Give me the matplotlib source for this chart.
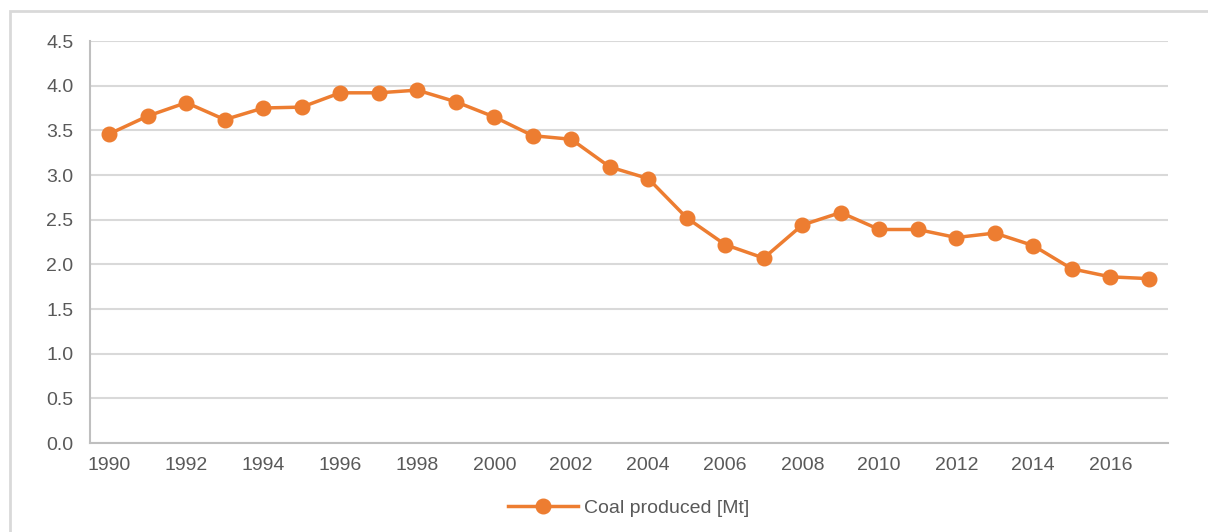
import matplotlib.pyplot as plt
from matplotlib.patches import Rectangle

# Data
years = list(range(1990, 2018))
coal = [3.46, 3.66, 3.81, 3.62, 3.75, 3.76, 3.92, 3.92, 3.95, 3.82,
        3.65, 3.44, 3.40, 3.09, 2.96, 2.52, 2.22, 2.07, 2.44, 2.58,
        2.39, 2.39, 2.30, 2.35, 2.21, 1.95, 1.86, 1.84]
series_label = "Coal produced [Mt]"
yticks = [0.0, 0.5, 1.0, 1.5, 2.0, 2.5, 3.0, 3.5, 4.0, 4.5]
xticks = list(range(1990, 2017, 2))

plt.rcParams['font.family'] = ['Liberation Sans', 'DejaVu Sans']
grey = '#595959'

fig = plt.figure(figsize=(12.08, 5.32), dpi=100)
# outer chart frame
fig.patches.append(Rectangle((10/1208, -0.05), 1.1, 1 - 11/532 + 0.05,
                             transform=fig.transFigure, fill=False,
                             edgecolor='#d9d9d9', linewidth=2))

ax = fig.add_axes([90/1208, 1 - 443/532, (1168 - 90)/1208, (443 - 41)/532])
ax.plot(years, coal, color='#ED7D31', linewidth=2.5, marker='o',
        markersize=10.5, label=series_label, zorder=3)

ax.set_xlim(1989.5, 2017.5)
ax.set_ylim(0, 4.5)
ax.set_yticks(yticks)
ax.set_yticklabels([f"{v:.1f}" for v in yticks])
ax.set_xticks(xticks)
ax.tick_params(length=0, colors=grey, labelsize=14)
ax.tick_params(axis='x', pad=10)
ax.tick_params(axis='y', pad=12)
ax.grid(axis='y', color='#d9d9d9', linewidth=1.5)
ax.set_axisbelow(True)
for s in ['top', 'right']:
    ax.spines[s].set_visible(False)
for s in ['left', 'bottom']:
    ax.spines[s].set_color('#bfbfbf')
    ax.spines[s].set_linewidth(1.5)

leg = ax.legend(loc='upper center', bbox_to_anchor=(0.5, -0.097), frameon=False,
                fontsize=14, handlelength=3.6, handletextpad=0.3)
for t in leg.get_texts():
    t.set_color(grey)

fig.savefig('out.png', dpi=100)
